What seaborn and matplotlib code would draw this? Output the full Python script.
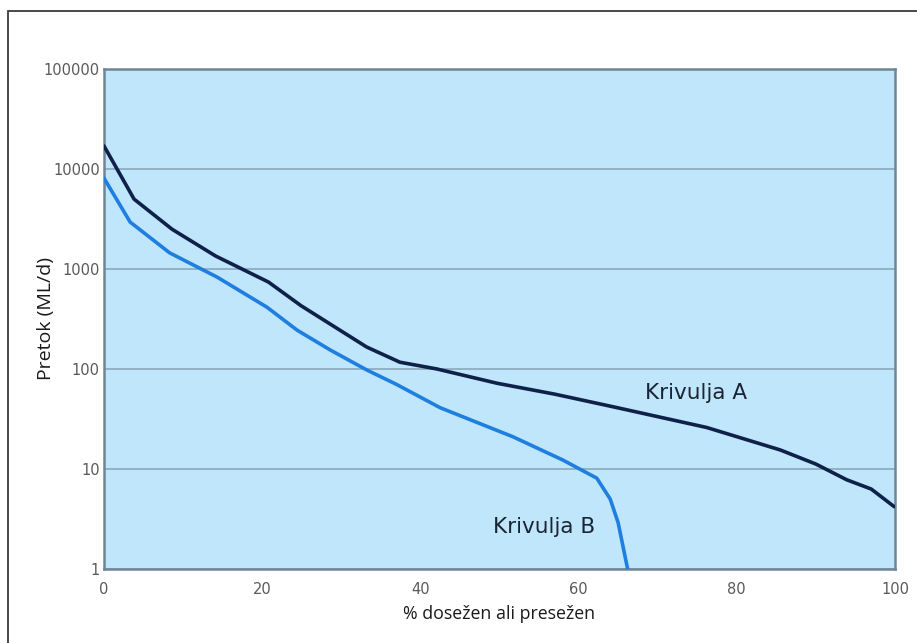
import matplotlib
matplotlib.use("Agg")
import matplotlib.pyplot as plt
from matplotlib.patches import Rectangle
import numpy as np
import pandas as pd
import seaborn as sns

# Flow duration curves: percentage of time a flow is equalled or exceeded
pct_a = [0, 3.8, 8.6, 14.1, 20.8, 24.9, 33.2, 37.4, 42.1, 49.7, 57.0, 64.3,
         76.2, 85.5, 90.0, 93.9, 97.0, 99.9]
flow_a = [17000, 5000, 2500, 1350, 740, 430, 166, 117, 100, 72, 56, 42,
          26, 15.5, 11.2, 7.8, 6.3, 4.2]

pct_b = [0, 3.3, 8.3, 14.3, 20.6, 24.4, 28.6, 33.2, 37.0, 42.5, 51.7, 58.0,
         62.3, 64.0, 65.0, 66.2]
flow_b = [8100, 2950, 1450, 830, 415, 245, 155, 98, 70, 41, 21, 12.3,
          8.1, 5.0, 2.9, 1.0]

label_a = "Krivulja A"
label_b = "Krivulja B"
x_label = "% dosežen ali presežen"
y_label = "Pretok (ML/d)"
x_ticks = [0, 20, 40, 60, 80, 100]
y_ticks = [1, 10, 100, 1000, 10000, 100000]

df = pd.concat([
    pd.DataFrame({"pct": pct_a, "flow": flow_a, "krivulja": label_a}),
    pd.DataFrame({"pct": pct_b, "flow": flow_b, "krivulja": label_b}),
])

sns.set_style("white")
plt.rcParams["font.family"] = ["DejaVu Sans"]

fig = plt.figure(figsize=(9.17, 6.43), dpi=100)
ax = fig.add_axes([104 / 917, 1 - 569 / 643, 791 / 917, 500 / 643])

# thin frame around the figure
fig.patches.append(Rectangle((8 / 917, -0.1), 1.2, (643 - 11) / 643 + 0.1,
                             transform=fig.transFigure, fill=False,
                             edgecolor="#3a3a3a", linewidth=1.3, zorder=0))

ax.set_facecolor("#bfe6fa")
sns.lineplot(data=df, x="pct", y="flow", hue="krivulja",
             palette={label_a: "#0f2149", label_b: "#1f7fe0"},
             linewidth=2.6, legend=False, ax=ax, sort=False, zorder=3)

ax.set_yscale("log")
ax.set_xlim(0, 100)
ax.set_ylim(1, 100000)
ax.set_xticks(x_ticks)
ax.set_xticklabels([str(v) for v in x_ticks])
ax.set_yticks(y_ticks)
ax.set_yticklabels([str(v) for v in y_ticks])
ax.minorticks_off()
ax.tick_params(axis="both", length=0, labelsize=10.5, labelcolor="#5a5a5a")
ax.tick_params(axis="x", pad=9)
ax.tick_params(axis="y", pad=3)

ax.yaxis.grid(True, color="#8eaebf", linewidth=1.3)
ax.xaxis.grid(False)
ax.set_axisbelow(True)
for s in ax.spines.values():
    s.set_color("#6f8795")
    s.set_linewidth(1.8)

ax.set_xlabel(x_label, fontsize=12.8, family=["Open Sans", "DejaVu Sans"],
              color="#1a1a1a", labelpad=6)
ax.set_ylabel(y_label, fontsize=14, family=["Open Sans", "DejaVu Sans"],
              color="#1a1a1a")
ax.yaxis.set_label_coords(-0.062, 0.5)

ax.text(68.4, 57.5, label_a, fontsize=15.5, color="#1b2433", va="center", ha="left")
ax.text(49.2, 2.63, label_b, fontsize=15.5, color="#1b2433", va="center", ha="left")

fig.savefig("out.png", dpi=100)
